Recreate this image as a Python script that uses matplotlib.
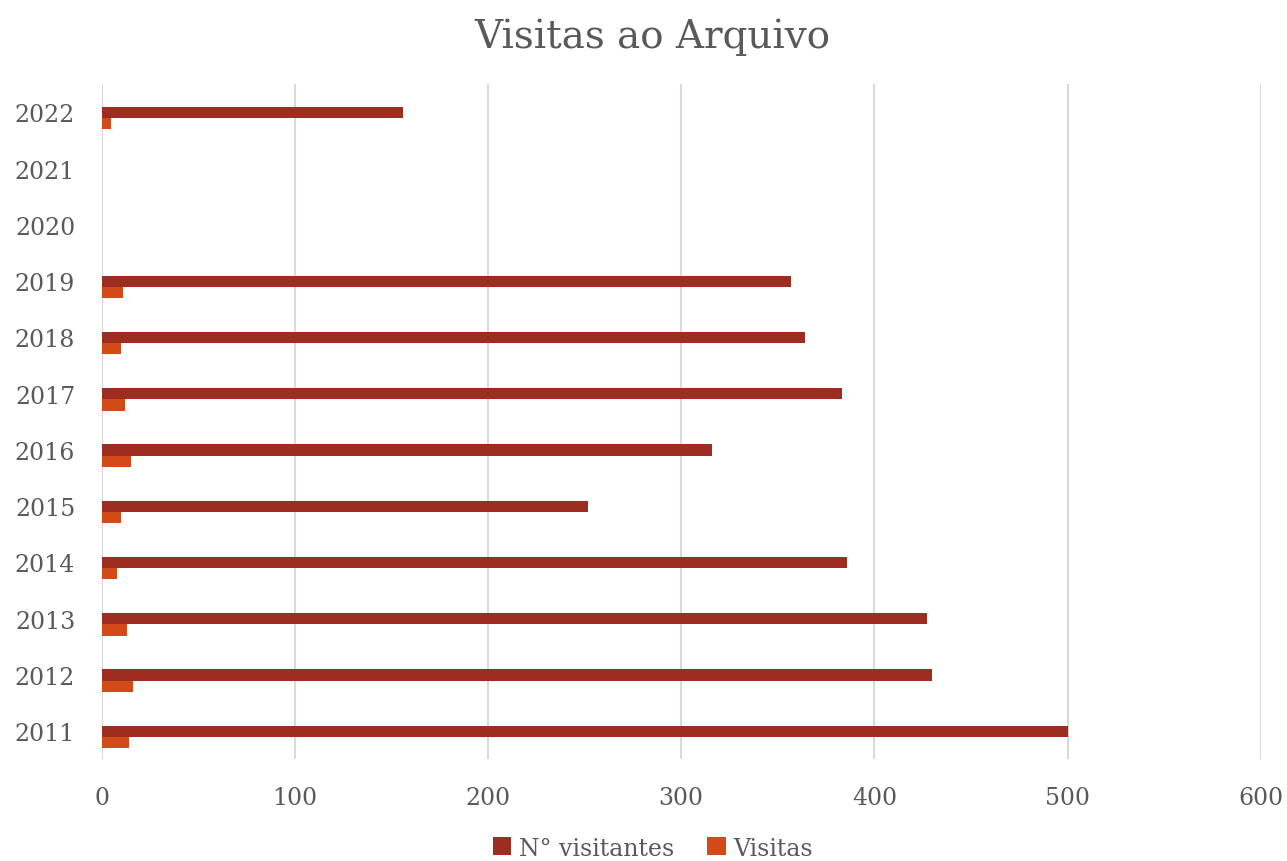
import numpy as np
import matplotlib.pyplot as plt

years = ['2011', '2012', '2013', '2014', '2015', '2016',
         '2017', '2018', '2019', '2020', '2021', '2022']
visitantes = [500, 430, 427, 386, 252, 316, 383, 364, 357, np.nan, np.nan, 156]
visitas = [14, 16, 13, 8, 10, 15, 12, 10, 11, np.nan, np.nan, 5]

dark_red = '#9C2D20'
orange = '#D24A18'
grey_text = '#595959'
grid_col = '#D9D9D9'

plt.rcParams['font.family'] = ['DejaVu Serif']

fig = plt.figure(figsize=(12.87, 8.62), dpi=100)
ax = fig.add_axes([0.079, 0.118, 0.9006, 0.783])

y = np.arange(len(years))
h = 0.2
ax.barh(y, visitantes, height=h, color=dark_red, label='N° visitantes')
ax.barh(y - h, visitas, height=h, color=orange, label='Visitas')

ax.set_xlim(0, 600)
ax.set_ylim(-0.5, len(years) - 0.5)
ax.set_xticks(range(0, 601, 100))
ax.set_yticks(y)
ax.set_yticklabels(years)

for s in ax.spines.values():
    s.set_visible(False)
ax.grid(axis='x', color=grid_col, linewidth=1.5)
ax.set_axisbelow(True)
ax.tick_params(length=0, labelsize=17, colors=grey_text)
ax.tick_params(axis='x', pad=19)
ax.tick_params(axis='y', pad=19)

fig.suptitle('Visitas ao Arquivo', x=0.507, y=0.979, fontsize=28, color=grey_text)

leg = fig.legend(loc='center', bbox_to_anchor=(0.507, 0.015), ncol=2, frameon=False,
                 fontsize=17, handlelength=0.8, handleheight=0.8, handletextpad=0.3,
                 columnspacing=1.4)
for t in leg.get_texts():
    t.set_color(grey_text)

fig.savefig('out.png', dpi=100)
